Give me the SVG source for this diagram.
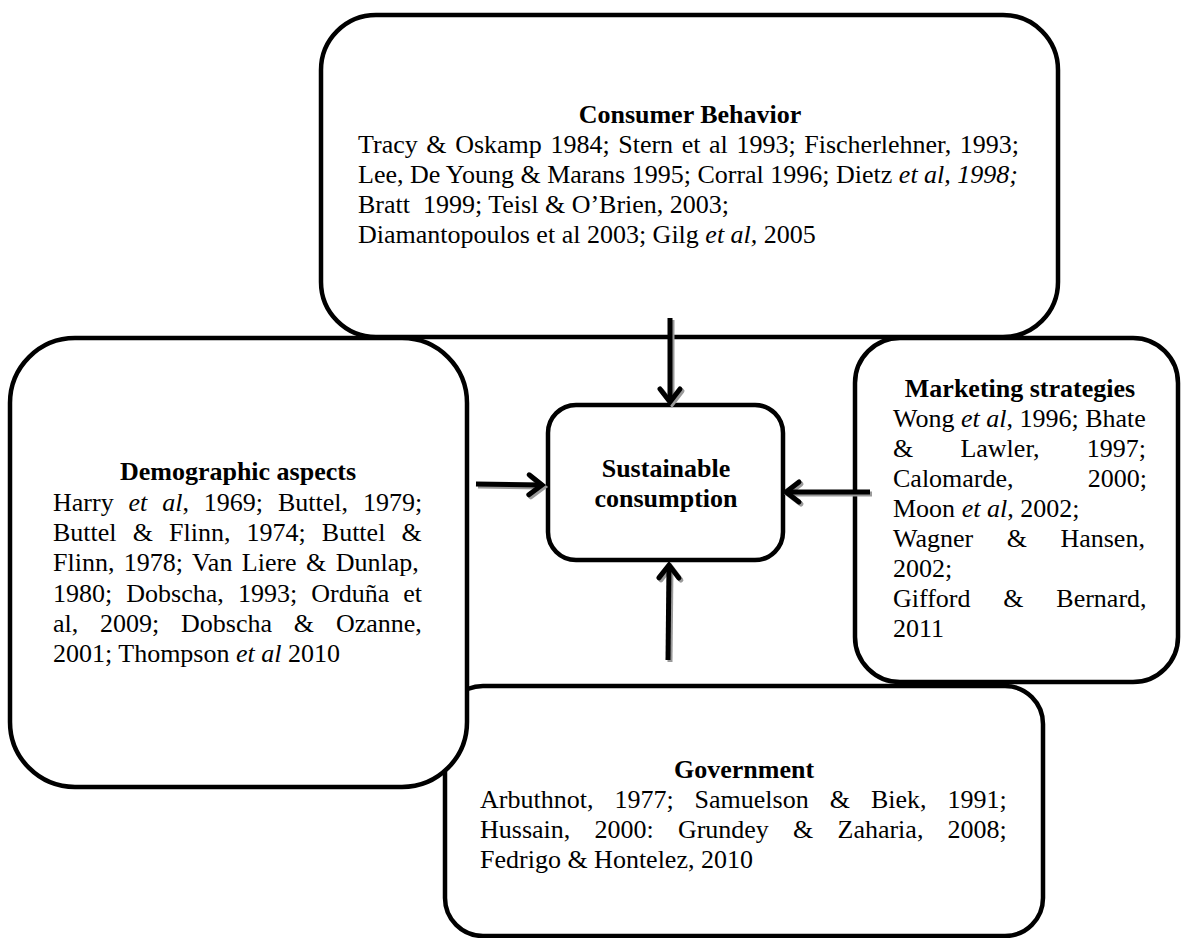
<svg xmlns="http://www.w3.org/2000/svg" width="1181" height="938" viewBox="0 0 1181 938">
<style>
.box{fill:#fff;stroke:#000;stroke-width:4.5}
.t{font-family:"Liberation Serif","Times New Roman",serif;font-size:26px;fill:#000}
.b{font-weight:bold}
.c{text-anchor:middle}
.i{font-style:italic}
.ln{fill:none;stroke:#000;stroke-width:5}
.sh{fill:none;stroke:#9a9a9a;stroke-width:5}
</style>
<defs>
<marker id="ah" markerUnits="userSpaceOnUse" markerWidth="40" markerHeight="40" viewBox="-20 -20 40 40" refX="0" refY="0" orient="auto" overflow="visible">
<path d="M-13,-10 L0,0 L-13,10" fill="none" stroke="#000" stroke-width="5" stroke-linecap="round"/>
</marker>
<marker id="ahs" markerUnits="userSpaceOnUse" markerWidth="40" markerHeight="40" viewBox="-20 -20 40 40" refX="0" refY="0" orient="auto" overflow="visible">
<path d="M-13,-10 L0,0 L-13,10" fill="none" stroke="#9a9a9a" stroke-width="5" stroke-linecap="round"/>
</marker>
</defs>

<g id="consumer-behavior">
<rect class="box" x="321" y="15" width="737" height="322" rx="55"/>
<text class="t b c" x="690" y="123">Consumer Behavior</text>
<text class="t" x="358" y="153" word-spacing="2.1">Tracy &amp; Oskamp 1984; Stern et al 1993; Fischerlehner, 1993;</text>
<text class="t" x="358" y="183">Lee, De Young &amp; Marans 1995; Corral 1996; Dietz <tspan class="i">et al, 1998;</tspan></text>
<text class="t" x="358" y="213">Bratt&#160; 1999; Teisl &amp; O’Brien, 2003;</text>
<text class="t" x="358" y="243">Diamantopoulos et al 2003; Gilg <tspan class="i">et al,</tspan> 2005</text>
</g>

<g id="government">
<rect class="box" x="445" y="686" width="598" height="250" rx="38"/>
<text class="t b c" x="744" y="778">Government</text>
<text class="t" x="480" y="808" word-spacing="14.5">Arbuthnot, 1977; Samuelson &amp; Biek, 1991;</text>
<text class="t" x="480" y="838" word-spacing="17.7">Hussain, 2000: Grundey &amp; Zaharia, 2008;</text>
<text class="t" x="480" y="868">Fedrigo &amp; Hontelez, 2010</text>
</g>

<g id="demographic-aspects">
<rect class="box" x="10" y="338" width="457" height="449" rx="65"/>
<text class="t b c" x="238" y="480">Demographic aspects</text>
<text class="t" x="53" y="510.5" word-spacing="8.4">Harry <tspan class="i">et al</tspan>, 1969; Buttel, 1979;</text>
<text class="t" x="53" y="541" word-spacing="9.6">Buttel &amp; Flinn, 1974; Buttel &amp;</text>
<text class="t" x="53" y="571" word-spacing="2.9">Flinn, 1978; Van Liere &amp; Dunlap,</text>
<text class="t" x="53" y="601.5" word-spacing="7.6">1980; Dobscha, 1993; Orduña et</text>
<text class="t" x="53" y="632" word-spacing="15.3">al, 2009; Dobscha &amp; Ozanne,</text>
<text class="t" x="53" y="662">2001; Thompson <tspan class="i">et al</tspan> 2010</text>
</g>

<g id="marketing-strategies">
<rect class="box" x="855" y="338" width="323" height="344" rx="45"/>
<text class="t b c" x="1020" y="397">Marketing strategies</text>
<text class="t" x="893" y="427">Wong <tspan class="i">et al</tspan>, 1996; Bhate</text>
<text class="t" x="893" y="457" word-spacing="40.7">&amp; Lawler, 1997;</text>
<text class="t" x="893" y="487" word-spacing="67.7">Calomarde, 2000;</text>
<text class="t" x="893" y="517">Moon <tspan class="i">et al</tspan>, 2002;</text>
<text class="t" x="893" y="547" word-spacing="27">Wagner &amp; Hansen,</text>
<text class="t" x="893" y="577">2002;</text>
<text class="t" x="893" y="607" word-spacing="26.3">Gifford &amp; Bernard,</text>
<text class="t" x="893" y="637">2011</text>
</g>

<g id="sustainable-consumption">
<rect class="box" x="548" y="405" width="235" height="155" rx="28"/>
<text class="t b c" x="666" y="477">Sustainable</text>
<text class="t b c" x="666" y="507">consumption</text>
</g>

<g id="connectors">
<g transform="translate(2,2)">
<line class="sh" x1="670" y1="318" x2="670" y2="402" marker-end="url(#ahs)"/>
<line class="sh" x1="476" y1="484" x2="542" y2="485" marker-end="url(#ahs)"/>
<line class="sh" x1="870" y1="492" x2="786" y2="492" marker-end="url(#ahs)"/>
<line class="sh" x1="668" y1="660" x2="669" y2="565" marker-end="url(#ahs)"/>
</g>
<line class="ln" x1="670" y1="318" x2="670" y2="402" marker-end="url(#ah)"/>
<line class="ln" x1="476" y1="484" x2="542" y2="485" marker-end="url(#ah)"/>
<line class="ln" x1="870" y1="492" x2="786" y2="492" marker-end="url(#ah)"/>
<line class="ln" x1="668" y1="660" x2="669" y2="565" marker-end="url(#ah)"/>
</g>
</svg>
